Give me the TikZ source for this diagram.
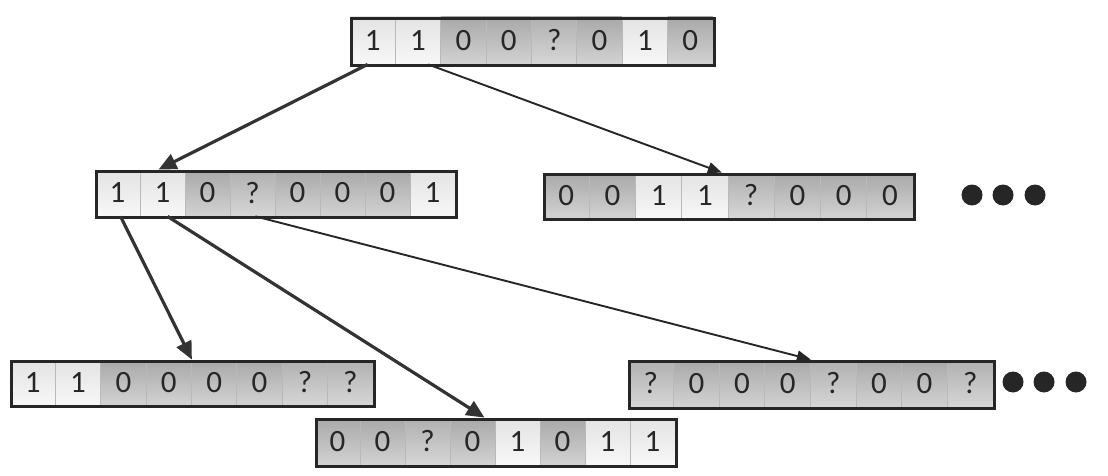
\documentclass[tikz,border=0pt]{standalone}
\usepackage{fontspec}
\setmainfont{Carlito}
\usetikzlibrary{arrows.meta,calc}
\tikzset{
  cellbase/.style={draw=gray!55, line width=0.8pt, inner sep=0pt, minimum height=#1,
    font=\fontsize{31}{31}\selectfont, text=black!85},
  cell0/.style={shade, top color=gray!68, bottom color=gray!35, node contents={0}},
  cellq/.style={shade, top color=gray!62, bottom color=gray!32, node contents={?}},
  cell1/.style={shade, top color=gray!22, bottom color=gray!6, node contents={1}},
  regframe/.style={draw=black!85, line width=3.4pt, inner sep=0pt, anchor=north west},
  bigarr/.style={draw=black!80, line width=3.2pt, -{Triangle[length=18pt,width=16pt]}},
  thinarr/.style={draw=black!85, line width=1.9pt, -{Triangle[length=14pt,width=11pt]}},
  dotnode/.style={circle, fill=black!85, minimum size=21pt, inner sep=0pt},
}
% name, x, y, width, height, bits
\newcommand\myreg[6]{%
  \foreach \b [count=\i] in {#6} {
    \pgfmathsetmacro\cx{#2+(\i-0.5)*#4/8}
    \pgfmathsetmacro\cy{#3+#5/2}
    \pgfmathsetmacro\cw{#4/8}
    \node (#1-\i) at (\cx,\cy) [cellbase=#5pt, minimum width=\cw pt, cell\b];
  }
  \node[regframe, minimum width=#4pt, minimum height=#5pt] (#1) at (#2,#3) {};
}
\begin{document}
\begin{tikzpicture}[x=1pt,y=-1pt]
\useasboundingbox (0,0) rectangle (1108,476);
\myreg{top}{350}{17}{363}{47}{1,1,0,0,q,0,1,0}
\myreg{la}{95}{170}{360}{46}{1,1,0,q,0,0,0,1}
\myreg{ra}{543}{173}{370}{45}{0,0,1,1,q,0,0,0}
\myreg{lb}{10}{360}{363}{45}{1,1,0,0,0,0,q,q}
\myreg{mb}{315}{418}{360}{47}{0,0,q,0,1,0,1,1}
\myreg{rb}{628}{360}{365}{47}{q,0,0,0,q,0,0,q}
\draw[bigarr] ($(top-1.south)+(-5,0)$) -- ($(la-2.north)+(-4,0)$);
\draw[thinarr] ($(top-2.south)+(10,0)$) -- ($(ra-4.north)+(17,0)$);
\draw[bigarr] ($(la-1.south)+(3,0)$) -- (lb-4.north east);
\draw[bigarr] ($(la-2.south)+(5,0)$) -- ($(mb-4.north)+(12,0)$);
\draw[thinarr] ($(la-4.south)+(3,0)$) -- (rb-4.north east);
\node[dotnode] (d1) at (972,195) {};
\node[dotnode] (d2) at (1003,195) {};
\node[dotnode] (d3) at (1035,195) {};
\node[dotnode] (d4) at (1013,382) {};
\node[dotnode] (d5) at (1044,382) {};
\node[dotnode] (d6) at (1076,382) {};
\end{tikzpicture}
\end{document}
